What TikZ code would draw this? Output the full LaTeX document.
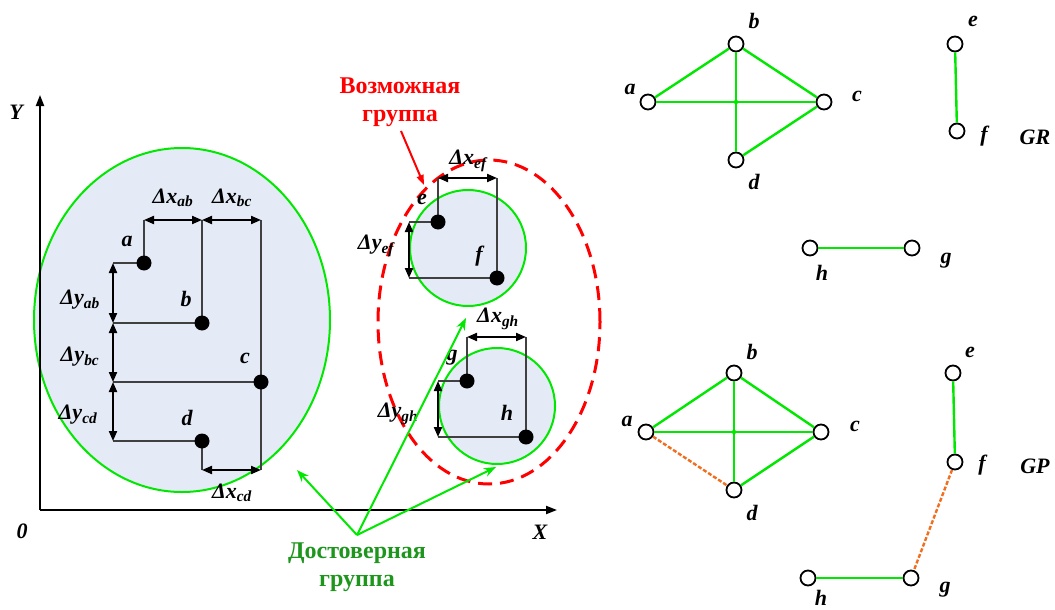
\documentclass[tikz,border=0pt]{standalone}
\usepackage{fontspec}
\setmainfont{Liberation Serif}
\usetikzlibrary{arrows.meta,shapes.geometric}
\definecolor{gr}{RGB}{0,232,0}
\definecolor{fillb}{RGB}{228,234,246}
\definecolor{dgreen}{RGB}{30,150,30}
\definecolor{redc}{RGB}{255,0,0}
\definecolor{org}{RGB}{240,110,30}
\begin{document}
\begin{tikzpicture}[x=1pt,y=-1pt,
 lbl/.style={font=\fontsize{22}{24}\selectfont\bfseries\itshape, inner sep=0pt},
 captxt/.style={font=\fontsize{24}{28}\selectfont\bfseries, inner sep=0pt, align=center},
 dot/.style={circle,fill=black,minimum size=15pt,inner sep=0pt},
 gnode/.style={circle,draw=black,line width=1.8pt,fill=white,minimum size=15pt,inner sep=0pt},
 ext/.style={draw=black!75,line width=1.3pt},
 dim/.style={black,line width=2pt,{Triangle[length=10pt,width=8pt]}-{Triangle[length=10pt,width=8pt]}},
 grp/.style={draw=gr,line width=2pt,fill=fillb},
 gedge/.style={draw=gr,line width=2.4pt},
 pedge/.style={draw=org,line width=2.4pt,dash pattern=on 4pt off 2pt},
 garrow/.style={draw=gr,line width=2pt,-{Stealth[length=12pt,width=9pt]}},
 axis/.style={draw=black,line width=2pt,-{Triangle[length=11pt,width=8pt]}},
]
\useasboundingbox (0,0) rectangle (1055,610);

% groups
\node[ellipse,grp,minimum width=296pt,minimum height=344pt,inner sep=0pt] (G1) at (182,320) {};
\node[circle,grp,minimum size=116pt,inner sep=0pt] (G2) at (468,248) {};
\node[circle,grp,minimum size=116pt,inner sep=0pt] (G3) at (497,406) {};
\node[ellipse,draw=redc,line width=3pt,dash pattern=on 14pt off 8pt,minimum width=222pt,minimum height=324pt,inner sep=0pt] (P1) at (489,322) {};

% axes
\coordinate (O) at (40,510);
\coordinate (Ye) at (40,95);
\coordinate (Xe) at (557,510);
\draw[axis] (O) -- (Ye);
\draw[axis] (O) -- (Xe);
\node[lbl] (ylab) at (16,112) {Y};
\node[lbl] (xlab) at (540,532) {X};
\node[lbl] (olab) at (22,531) {0};

% left group points
\coordinate (pa) at (144,263);
\coordinate (pb) at (202,323);
\coordinate (pc) at (261,382);
\coordinate (pd) at (202,441);
\coordinate (ta) at (144,220);
\coordinate (tb) at (202,220);
\coordinate (tc) at (261,220);
\coordinate (bc) at (261,470);
\coordinate (bd) at (202,470);
\coordinate (la) at (113,263);
\coordinate (lb) at (113,323);
\coordinate (lc) at (113,382);
\coordinate (ld) at (113,441);
\draw[ext] (ta) -- (pa) -- (la);
\draw[ext] (tb) -- (pb) -- (lb);
\draw[ext] (tc) -- (pc) -- (lc);
\draw[ext] (pc) -- (bc);
\draw[ext] (bd) -- (pd) -- (ld);
\draw[dim] (ta) -- (tb);
\draw[dim] (tb) -- (tc);
\draw[dim] (bd) -- (bc);
\draw[dim] (la) -- (lb);
\draw[dim] (lb) -- (lc);
\draw[dim] (lc) -- (ld);
\node[dot] (da) at (pa) {};
\node[dot] (db) at (pb) {};
\node[dot] (dc) at (pc) {};
\node[dot] (dd) at (pd) {};
\node[lbl] (la1) at (127,241) {a};
\node[lbl] (lb1) at (186,299) {b};
\node[lbl] (lc1) at (245,358) {c};
\node[lbl] (ld1) at (187,418) {d};
\node[lbl] (dxab) at (173,198) {Δx\textsubscript{ab}};
\node[lbl] (dxbc) at (232,198) {Δx\textsubscript{bc}};
\node[lbl] (dxcd) at (232,493) {Δx\textsubscript{cd}};
\node[lbl] (dyab) at (80,300) {Δy\textsubscript{ab}};
\node[lbl] (dybc) at (80,357) {Δy\textsubscript{bc}};
\node[lbl] (dycd) at (78,415) {Δy\textsubscript{cd}};

% e f group
\coordinate (pe) at (438,222);
\coordinate (pf) at (497,278);
\coordinate (te) at (438,178);
\coordinate (tf) at (497,178);
\coordinate (le) at (409,222);
\coordinate (lf) at (409,278);
\draw[ext] (te) -- (pe) -- (le);
\draw[ext] (tf) -- (pf) -- (lf);
\draw[dim] (te) -- (tf);
\draw[dim] (le) -- (lf);
\node[dot] (de) at (pe) {};
\node[dot] (df) at (pf) {};
\node[lbl] (le1) at (422,199) {e};
\node[lbl] (lf1) at (479,256) {f};
\node[lbl] (dxef) at (468,161) {Δx\textsubscript{ef}};
\node[lbl] (dyef) at (376,246) {Δy\textsubscript{ef}};

% g h group
\coordinate (pg) at (467,381);
\coordinate (ph) at (526,437);
\coordinate (tg) at (467,337);
\coordinate (th) at (526,337);
\coordinate (lg) at (438,381);
\coordinate (lh) at (438,437);
\draw[ext] (tg) -- (pg) -- (lg);
\draw[ext] (th) -- (ph) -- (lh);
\draw[dim] (tg) -- (th);
\draw[dim] (lg) -- (lh);
\node[dot] (dg) at (pg) {};
\node[dot] (dh) at (ph) {};
\node[lbl] (lg1) at (452,358) {g};
\node[lbl] (lh1) at (507,413) {h};
\node[lbl] (dxgh) at (498,319) {Δx\textsubscript{gh}};
\node[lbl] (dygh) at (398,414) {Δy\textsubscript{gh}};

% captions and pointers
\node[captxt,text=redc] (poss) at (400,102) {Возможная\\группа};
\coordinate (rs) at (401,131);
\coordinate (rt) at (424,185);
\draw[draw=redc,line width=2pt,-{Triangle[length=10pt,width=7pt]}] (rs) -- (rt);
\node[captxt,text=dgreen] (rel) at (357,567) {Достоверная\\группа};
\coordinate (gsrc) at (357,535);
\coordinate (gt1) at (297,470);
\coordinate (gt2) at (466,318);
\coordinate (gt3) at (496,467);
\draw[garrow] (gsrc) -- (gt1);
\draw[garrow] (gsrc) -- (gt2);
\draw[garrow] (gsrc) -- (gt3);

% graph GR
\node[gnode] (ra) at (648,102) {};
\node[gnode] (rb) at (736,44) {};
\node[gnode] (rc) at (824,102) {};
\node[gnode] (rdd) at (736,160) {};
\node[gnode] (re) at (955,44) {};
\node[gnode] (rf) at (957,131) {};
\node[gnode] (rh) at (810,248) {};
\node[gnode] (rg) at (912,248) {};
\draw[gedge] (ra) -- (rb);
\draw[gedge] (rb) -- (rc);
\draw[gedge] (rc) -- (rdd);
\draw[gedge] (ra) -- (rc);
\draw[gedge] (rb) -- (rdd);
\fill[gr] (736,102) circle (2.2pt);
\draw[gedge] (re) -- (rf);
\draw[gedge] (rh) -- (rg);
\node[lbl] (ral) at (630,89) {a};
\node[lbl] (rbl) at (754,21) {b};
\node[lbl] (rcl) at (857,96) {c};
\node[lbl] (rdl) at (754,182) {d};
\node[lbl] (rel1) at (973,21) {e};
\node[lbl] (rfl) at (984,136) {f};
\node[lbl] (rhl) at (822,273) {h};
\node[lbl] (rgl) at (946,261) {g};
\node[lbl] (GR) at (1035,137) {GR};

% graph GP
\node[gnode] (qa) at (646,432) {};
\node[gnode] (qb) at (734,373) {};
\node[gnode] (qc) at (821,432) {};
\node[gnode] (qd) at (734,490) {};
\node[gnode] (qe) at (953,373) {};
\node[gnode] (qf) at (955,462) {};
\node[gnode] (qh) at (808,578) {};
\node[gnode] (qg) at (911,578) {};
\draw[gedge] (qa) -- (qb);
\draw[gedge] (qb) -- (qc);
\draw[gedge] (qc) -- (qd);
\draw[gedge] (qa) -- (qc);
\draw[gedge] (qb) -- (qd);
\fill[gr] (734,432) circle (2.2pt);
\draw[pedge] (qa) -- (qd);
\draw[gedge] (qe) -- (qf);
\draw[pedge] (qf) -- (qg);
\draw[gedge] (qh) -- (qg);
\node[lbl] (qal) at (627,421) {a};
\node[lbl] (qbl) at (752,352) {b};
\node[lbl] (qcl) at (855,426) {c};
\node[lbl] (qdl) at (752,513) {d};
\node[lbl] (qel) at (970,352) {e};
\node[lbl] (qfl) at (982,465) {f};
\node[lbl] (qhl) at (821,598) {h};
\node[lbl] (qgl) at (945,590) {g};
\node[lbl] (GP) at (1035,466) {GP};
\end{tikzpicture}
\end{document}
